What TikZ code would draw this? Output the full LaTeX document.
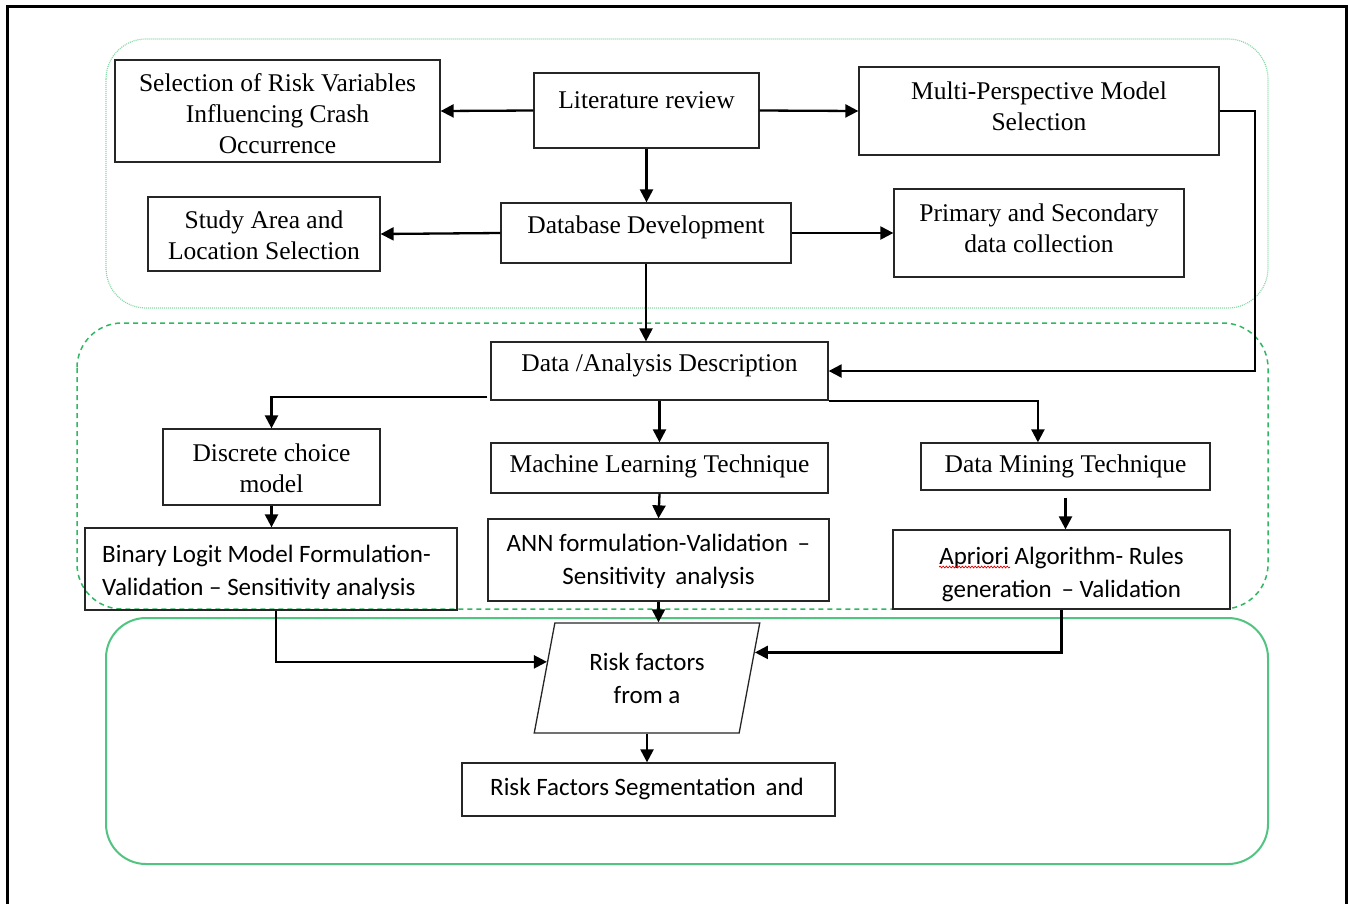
\documentclass[tikz,border=0pt]{standalone}
\usepackage{fontspec}
\setmainfont{Liberation Serif}
\newfontfamily\calib{Carlito}
\usetikzlibrary{arrows.meta,calc,shapes.geometric,decorations.pathmorphing}
\definecolor{gdot}{HTML}{86D9A6}
\definecolor{gdash}{HTML}{2FB862}
\definecolor{gsolid}{HTML}{52C482}
\begin{document}
\begin{tikzpicture}[x=1pt,y=-1pt,
 box/.style={draw=black!85,line width=1.3pt,rectangle,inner sep=0pt},
 serif/.style={font=\fontsize{25.5}{31}\selectfont,align=center,inner sep=0pt},
 sans/.style={font=\calib\fontsize{25}{33}\selectfont,align=center,inner sep=0pt},
 arr/.style={line width=2.3pt,-{Triangle[length=13pt,width=13pt]}},
 grp/.style={rounded corners=40pt},
 wavy/.style={red!85!black,line width=0.7pt,decorate,decoration={snake,amplitude=0.9pt,segment length=3.2pt}},
]
\useasboundingbox (0,0) rectangle (1349,903);
\fill[white] (0,0) rectangle (1349,903);
% outer frame
\draw[line width=3pt] (7.5,910) -- (7.5,6) -- (1346,6) -- (1346,910);
% group frames
\draw[grp,gdot,line width=1.2pt,dash pattern=on 1pt off 1pt] (106,39) rectangle (1268,308);
\draw[grp,gdash,line width=1.5pt,dash pattern=on 5pt off 4pt,rounded corners=45pt] (77,323) rectangle (1268,609);
\draw[grp,gsolid,line width=2pt] (106,618) rectangle (1268,864);

% top group
\node[box,minimum width=325pt,minimum height=102pt] (sel) at (277.5,111) {};
\node[serif] (selT) at (277.5,114) {Selection of Risk Variables\\Influencing Crash\\Occurrence};
\node[box,minimum width=225pt,minimum height=75pt] (lit) at (646.5,110.5) {};
\node[serif] (litT) at (646.5,100) {Literature review};
\node[box,minimum width=360pt,minimum height=88pt] (mps) at (1039,111) {};
\node[serif] (mpsT) at (1039,106) {Multi-Perspective Model\\Selection};
\node[box,minimum width=232pt,minimum height=74pt] (study) at (264,234) {};
\node[serif] (studyT) at (264,235.5) {Study Area and\\Location Selection};
\node[box,minimum width=290pt,minimum height=60pt] (db) at (646,233) {};
\node[serif] (dbT) at (646,227) {Database Development};
\node[box,minimum width=290pt,minimum height=88pt] (prim) at (1039,233) {};
\node[serif] (primT) at (1039,228) {Primary and Secondary\\data collection};

% middle group
\node[box,minimum width=337pt,minimum height=58pt] (dad) at (659.5,371) {};
\node[serif] (dadT) at (659.5,365) {Data /Analysis Description};
\node[box,minimum width=217pt,minimum height=76pt] (dcm) at (271.5,467) {};
\node[serif] (dcmT) at (271.5,468) {Discrete choice\\model};
\node[box,minimum width=337pt,minimum height=50pt] (ml) at (659.5,468) {};
\node[serif] (mlT) at (659.5,466.5) {Machine Learning Technique};
\node[box,minimum width=289pt,minimum height=47pt] (dm) at (1065.5,466.5) {};
\node[serif] (dmT) at (1065.5,466) {Data Mining Technique};
\node[box,minimum width=372pt,minimum height=82pt] (bin) at (271,569) {};
\node[sans,align=left,anchor=west] (binT) at (102,572) {Binary Logit Model Formulation-\\Validation – Sensitivity analysis};
\node[box,minimum width=341pt,minimum height=82pt] (ann) at (658.5,560) {};
\node[sans] (annT) at (658.5,561.5) {ANN formulation-Validation \,–\\Sensitivity\, analysis};
\node[box,minimum width=337pt,minimum height=79pt] (apr) at (1061.5,569.5) {};
\node[sans] (aprT) at (1061.5,574.5) {Apriori Algorithm- Rules\\generation \,– Validation};
\draw[wavy] ($(apr.center)+(-122.5,-2.5)$) -- ++(71,0);

% bottom group
\node[trapezium,trapezium left angle=75.7,trapezium right angle=104.3,trapezium stretches=true,
  minimum width=226pt,minimum height=110pt,draw=black!85,line width=1.3pt,sans] (risk) at (647,678) {Risk factors\\from a};
\node[box,minimum width=373pt,minimum height=53pt] (seg) at (648.5,789.5) {};
\node[sans] (segT) at (647,788.5) {Risk Factors Segmentation\, and};

% connectors
\draw[arr] (lit.west) -- (sel.east);
\draw[arr] (lit.east) -- (mps.west);
\draw[arr] (lit.south) -- (lit.south |- db.north);
\draw[arr] (db.west) -- (study.east);
\draw[arr] (db.east) -- (prim.west);
\draw[arr] (db.south) -- (db.south |- dad.north);
\draw[arr] (mps.east) -- ++(35,0) |- (dad.east);
\draw[arr] ([xshift=-3pt,yshift=4pt]dad.south west) -| (dcm.north);
\draw[arr] (dad.south) -- (ml.north);
\draw[arr] (dad.south east) -| ($(dm.north west)!0.405!(dm.north east)$);
\draw[arr] (dcm.south) -- (dcm.south |- bin.north);
\draw[arr] (ml.south) -- (ann.north);
\draw[arr] ([yshift=-7pt]dm.south) -- (dm.south |- apr.north);
\draw[arr] (ann.south) -- (ann.south |- risk.north);
\coordinate (pl) at ($(risk.top left corner)!0.355!(risk.bottom left corner)$);
\coordinate (pr) at ($(risk.top right corner)!0.27!(risk.bottom right corner)$);
\draw[arr] ([xshift=5pt]bin.south) |- (pl);
\draw[arr] (apr.south) |- (pr);
\draw[arr] (risk.south) -- (risk.south |- seg.north);
\end{tikzpicture}
\end{document}
